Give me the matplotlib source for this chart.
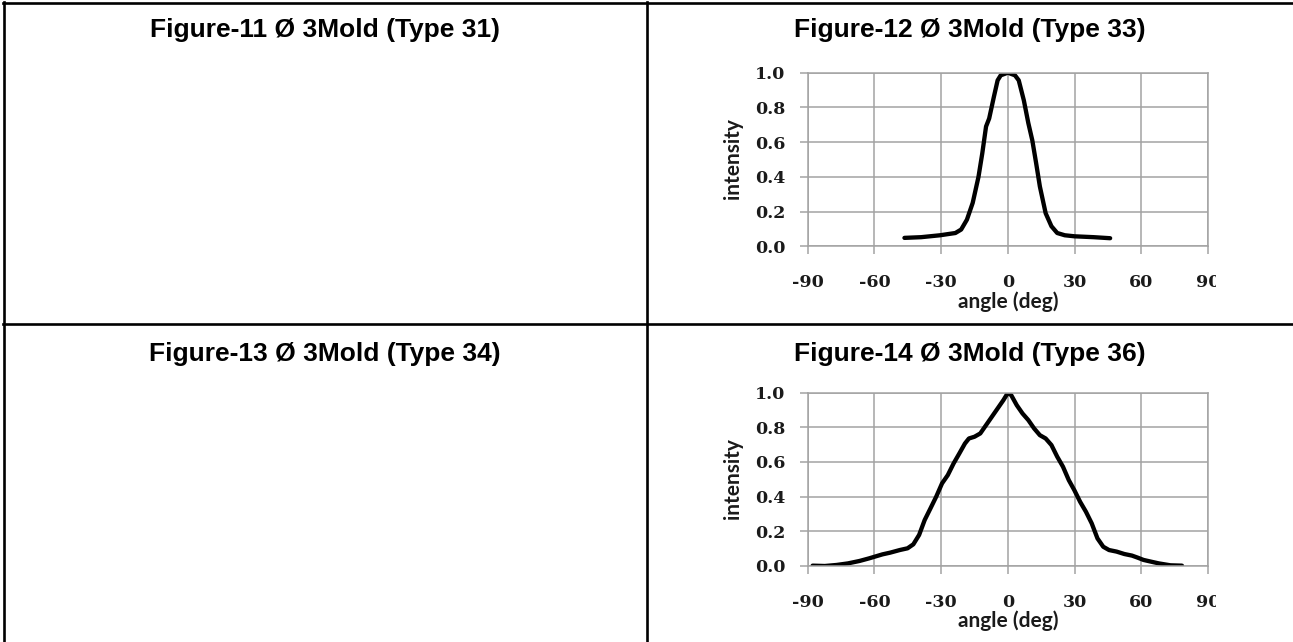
import matplotlib
matplotlib.use('Agg')
import matplotlib.pyplot as plt
from matplotlib.lines import Line2D
from matplotlib.transforms import Bbox, TransformedBbox

# ---------------- data ----------------
titles = ["Figure-11 Ø 3Mold (Type 31)", "Figure-12 Ø 3Mold (Type 33)",
          "Figure-13 Ø 3Mold (Type 34)", "Figure-14 Ø 3Mold (Type 36)"]

angle33 = [-46.5, -39, -30.5, -23.6, -21, -18.4, -15.8, -13.2, -11.5, -9.8, -8.4, -6.3,
           -4.6, -3.2, 0, 3.2, 4.9, 7.2, 9.2, 11, 12.7, 14.4, 17, 19.6, 22.2, 25.6, 30,
           38.6, 46]
int33 = [0.048, 0.052, 0.063, 0.076, 0.096, 0.153, 0.25, 0.40, 0.535, 0.69, 0.736, 0.86,
         0.956, 0.985, 1.0, 0.985, 0.956, 0.84, 0.71, 0.61, 0.48, 0.344, 0.19, 0.115,
         0.076, 0.063, 0.057, 0.052, 0.046]

angle36 = [-87.8, -82.3, -77, -71.9, -66.7, -62.4, -59.8, -56.4, -52.9, -48.6, -45.1,
           -42.5, -39.9, -37.4, -34.8, -32.2, -29.6, -27, -24.4, -21.8, -19.3, -17.5,
           -15, -12.4, -9.8, -7.2, -4.6, -2, 0, 1.5, 4, 6.6, 9.2, 11.8, 14.4, 17, 19.6,
           22.2, 24.8, 27.4, 29.9, 32.5, 35.1, 37.7, 40.3, 42.9, 45.5, 48.9, 52.4, 55.8,
           58.4, 61, 64.4, 67.9, 73.1, 78.3]
int36 = [0.002, 0.0, 0.006, 0.015, 0.029, 0.044, 0.054, 0.067, 0.077, 0.092, 0.102,
         0.125, 0.179, 0.265, 0.332, 0.40, 0.476, 0.524, 0.591, 0.649, 0.706, 0.735,
         0.745, 0.764, 0.812, 0.86, 0.908, 0.956, 0.998, 0.985, 0.927, 0.879, 0.841,
         0.793, 0.754, 0.735, 0.697, 0.63, 0.572, 0.495, 0.437, 0.37, 0.313, 0.246,
         0.159, 0.111, 0.092, 0.083, 0.069, 0.06, 0.048, 0.035, 0.025, 0.015, 0.004,
         0.002]

x_ticks = [-90, -60, -30, 0, 30, 60, 90]
x_tick_labels = ["-90", "-60", "-30", "0", "30", "60", "90"]
y_ticks = [0.0, 0.2, 0.4, 0.6, 0.8, 1.0]
y_tick_labels = ["0.0", "0.2", "0.4", "0.6", "0.8", "1.0"]
x_label = "angle (deg)"
y_label = "intensity"

# ---------------- figure ----------------
W, H = 1293, 642
fig = plt.figure(figsize=(W / 100, H / 100), dpi=100)
fig.patch.set_facecolor('white')


def fx(px):
    return px / W


def fy(py):
    return 1 - py / H


# table borders
lw_border = 1.9
fig.add_artist(Line2D([fx(3), 1], [fy(3), fy(3)], color='black', lw=lw_border, transform=fig.transFigure))
fig.add_artist(Line2D([fx(3), 1], [fy(324), fy(324)], color='black', lw=lw_border, transform=fig.transFigure))
fig.add_artist(Line2D([fx(4), fx(4)], [fy(2), 0], color='black', lw=lw_border, transform=fig.transFigure))
fig.add_artist(Line2D([fx(647), fx(647)], [fy(2), 0], color='black', lw=lw_border, transform=fig.transFigure))

# titles
title_pos = [(325, 37), (970, 37), (325, 361), (970, 361)]
for t, (tx, ty) in zip(titles, title_pos):
    fig.text(fx(tx), fy(ty), t, ha='center', va='baseline', fontsize=19,
             family='Liberation Sans', weight='bold', color='black')

grid_c = '#a3a3a3'
serif = 'DejaVu Serif'


def make_chart(top_px, xs, ys, ylab_y, xlab_y):
    ax = fig.add_axes([fx(807.7), fy(top_px + 173.5), 400.3 / W, 173.5 / H])
    ax.set_xlim(-90, 90)
    ax.set_ylim(0, 1)
    ax.set_xticks(x_ticks)
    ax.set_xticklabels(x_tick_labels)
    ax.set_yticks(y_ticks)
    ax.set_yticklabels(y_tick_labels)
    ax.set_axisbelow(True)
    ax.grid(True, color=grid_c, lw=1.1)
    for s in ax.spines.values():
        s.set_color(grid_c)
        s.set_linewidth(1.1)
    ax.tick_params(axis='both', direction='out', length=5.5, width=1.1, color=grid_c,
                   labelsize=12.5, labelcolor='#1a1a1a')
    ax.tick_params(axis='x', pad=14.5)
    ax.tick_params(axis='y', pad=10.5)
    for lbl in ax.get_xticklabels() + ax.get_yticklabels():
        lbl.set_family(serif)
        lbl.set_weight('bold')
    ax.plot(xs, ys, color='black', lw=3.1, solid_joinstyle='round', solid_capstyle='round')
    # cropped last tick label, as in the reference
    last = ax.get_xticklabels()[-1]
    last.set_clip_on(True)
    last.set_clip_box(TransformedBbox(Bbox([[0, 0], [fx(1216), 1]]), fig.transFigure))
    fig.text(fx(733), fy(ylab_y), y_label, rotation=90, ha='center', va='center',
             family='Lato', weight='bold', fontsize=15, color='#1a1a1a')
    fig.text(fx(1008), fy(xlab_y), x_label, ha='center', va='center',
             family='Lato', weight='bold', fontsize=15, color='#1a1a1a')
    return ax


make_chart(72.7, angle33, int33, 159, 302)
make_chart(392.5, angle36, int36, 479, 621)

fig.savefig('out.png', dpi=100, facecolor='white')
